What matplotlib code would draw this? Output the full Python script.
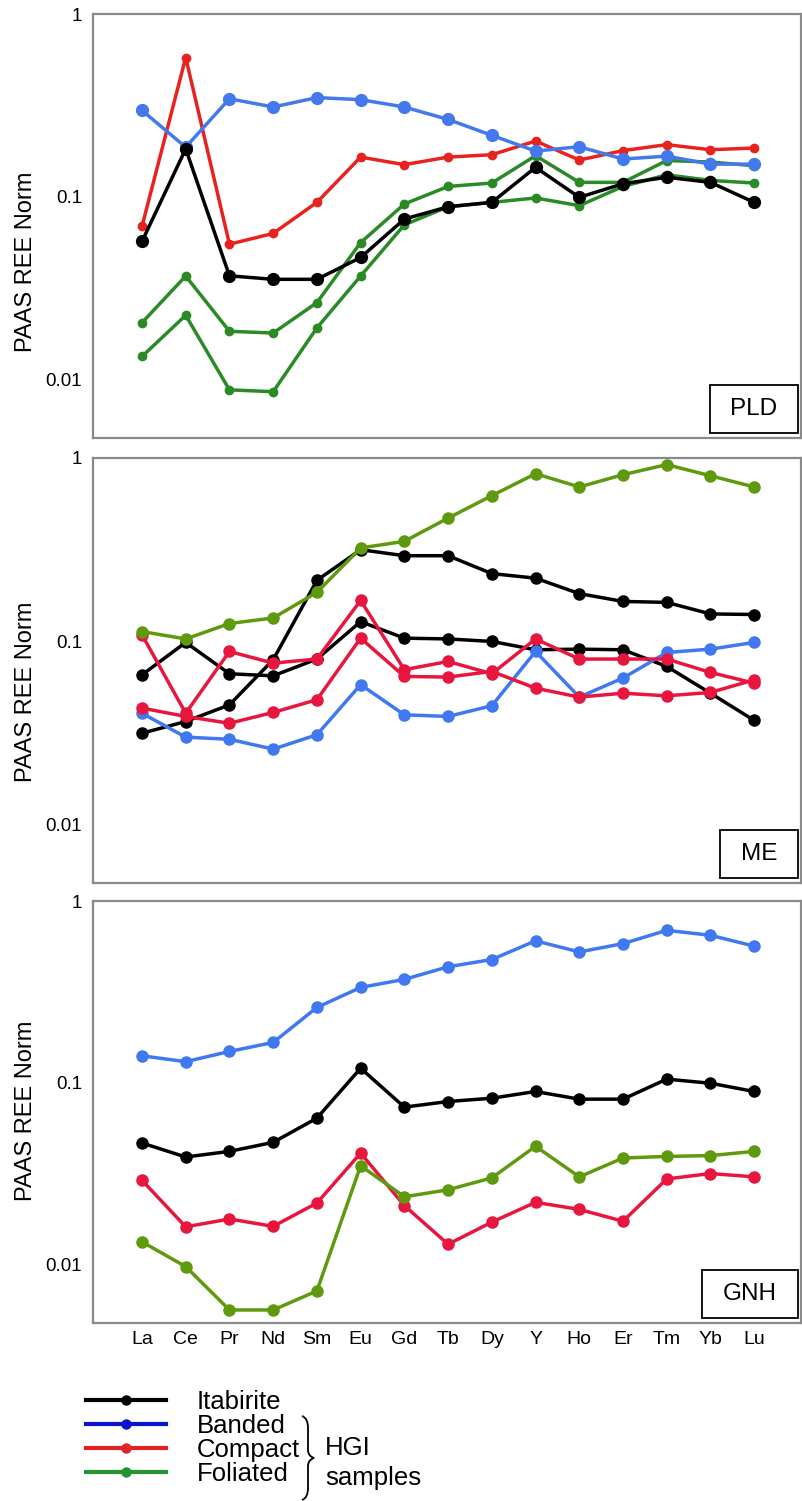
import matplotlib
matplotlib.use("Agg")
import matplotlib.pyplot as plt
from matplotlib.lines import Line2D
from matplotlib.patches import Rectangle, PathPatch
from matplotlib.path import Path

plt.rcParams['font.family'] = ['Liberation Sans', 'DejaVu Sans']

elements = ['La', 'Ce', 'Pr', 'Nd', 'Sm', 'Eu', 'Gd', 'Tb', 'Dy', 'Y', 'Ho', 'Er', 'Tm', 'Yb', 'Lu']

# PLD
itab_pld = [0.057, 0.183, 0.037, 0.0354, 0.0354, 0.0466, 0.0756, 0.0883, 0.0933, 0.145, 0.0994, 0.118, 0.128, 0.120, 0.0933]
band_pld = [0.297, 0.187, 0.344, 0.310, 0.349, 0.340, 0.310, 0.265, 0.217, 0.178, 0.188, 0.161, 0.167, 0.151, 0.151]
comp_pld = [0.0689, 0.578, 0.0551, 0.0631, 0.0933, 0.165, 0.150, 0.165, 0.170, 0.202, 0.159, 0.179, 0.193, 0.181, 0.185]
fol_pld_a = [0.0205, 0.0369, 0.0184, 0.0180, 0.0264, 0.0562, 0.0914, 0.114, 0.119, 0.168, 0.120, 0.120, 0.158, 0.155, 0.148]
fol_pld_b = [0.0134, 0.0225, 0.0088, 0.0086, 0.0192, 0.0369, 0.0703, 0.0883, 0.0933, 0.0986, 0.0895, 0.114, 0.132, 0.123, 0.119]

# ME
itab_me_a = [0.0656, 0.0986, 0.0665, 0.0648, 0.080, 0.128, 0.104, 0.103, 0.0998, 0.0899, 0.0906, 0.0899, 0.0729, 0.0521, 0.037]
itab_me_b = [0.0315, 0.0365, 0.045, 0.0793, 0.215, 0.316, 0.293, 0.293, 0.234, 0.221, 0.182, 0.165, 0.163, 0.141, 0.140]
band_me = [0.0405, 0.030, 0.0292, 0.0258, 0.0309, 0.058, 0.0397, 0.0389, 0.0445, 0.088, 0.0496, 0.063, 0.0869, 0.0906, 0.0986]
comp_me_a = [0.1086, 0.0405, 0.088, 0.076, 0.080, 0.167, 0.070, 0.0776, 0.0665, 0.103, 0.080, 0.080, 0.080, 0.0676, 0.0591]
comp_me_b = [0.0432, 0.0389, 0.0357, 0.0409, 0.048, 0.104, 0.0643, 0.0638, 0.0685, 0.0555, 0.0496, 0.0521, 0.0504, 0.0526, 0.0616]
fol_me = [0.113, 0.103, 0.125, 0.134, 0.185, 0.323, 0.351, 0.470, 0.623, 0.821, 0.695, 0.811, 0.92, 0.80, 0.695]

# GNH
itab_gnh = [0.0468, 0.0392, 0.0421, 0.0472, 0.0641, 0.1205, 0.0737, 0.0791, 0.0825, 0.0898, 0.0815, 0.0815, 0.105, 0.0997, 0.0898]
band_gnh = [0.141, 0.131, 0.149, 0.167, 0.260, 0.335, 0.371, 0.435, 0.477, 0.604, 0.525, 0.583, 0.690, 0.648, 0.565]
comp_gnh = [0.0292, 0.0162, 0.0179, 0.0163, 0.0219, 0.0412, 0.0212, 0.0130, 0.0172, 0.0221, 0.0202, 0.0174, 0.0297, 0.0318, 0.0305]
fol_gnh = [0.0134, 0.0098, 0.00566, 0.00566, 0.0072, 0.0351, 0.0237, 0.0259, 0.0301, 0.0449, 0.0305, 0.0387, 0.0395, 0.0399, 0.0421]

legend_labels = ['Itabirite', 'Banded', 'Compact', 'Foliated']
legend_colors = ['#000000', '#0a14c8', '#e02424', '#22962e']

W, H = 802, 1501
fig = plt.figure(figsize=(W / 100, H / 100), dpi=100)


def px_axes(left, top, right, bottom):
    return fig.add_axes([left / W, 1 - bottom / H, (right - left) / W, (bottom - top) / H])


x = list(range(len(elements)))

panels = [
    ('PLD', px_axes(93, 14, 801, 438), 0.415, 88,
     [(fol_pld_a, '#2a8a26', 6), (fol_pld_b, '#2a8a26', 6), (comp_pld, '#e8231f', 6),
      (band_pld, '#4479ee', 8.5), (itab_pld, '#000000', 8.5)]),
    ('ME', px_axes(93, 458, 801, 883), 0.449, 78,
     [(itab_me_a, '#000000', 8), (itab_me_b, '#000000', 8), (band_me, '#3f78f0', 8),
      (comp_me_a, '#e8163f', 8), (comp_me_b, '#e8163f', 8), (fol_me, '#5f9a0e', 8)]),
    ('GNH', px_axes(93, 901, 801, 1323), 0.502, 96,
     [(itab_gnh, '#000000', 8), (band_gnh, '#3f78f0', 8), (comp_gnh, '#e8163f', 8),
      (fol_gnh, '#5f9a0e', 8)]),
]

for name, ax, ylab_y, box_w, series in panels:
    for vals, col, ms in series:
        ax.plot(x, vals, color=col, lw=2.5, marker='o', ms=ms, mec=col, mfc=col)
    ax.set_yscale('log')
    ax.set_ylim(0.0048, 1.0)
    ax.set_xlim(-1.12, 15.07)
    ax.set_yticks([0.01, 0.1, 1])
    ax.set_yticklabels(['0.01', '0.1', '1'])
    ax.minorticks_off()
    ax.tick_params(axis='y', length=0, pad=8, labelsize=13.5)
    ax.tick_params(axis='x', length=0, pad=6, labelsize=14)
    ax.set_xticks(x)
    ax.set_xticklabels(elements if name == 'GNH' else [])
    for sp in ax.spines.values():
        sp.set_color('#8a8a8a')
        sp.set_linewidth(1.6)
    ax.set_ylabel('PAAS REE Norm', fontsize=17)
    ax.yaxis.set_label_coords(-0.079, ylab_y)
    # sample label box in the lower right corner
    bw = box_w / 708
    bh = 48 / 424
    ax.add_patch(Rectangle((0.9955 - bw, 0.012), bw, bh, transform=ax.transAxes,
                           fill=False, ec='black', lw=1.3, zorder=5))
    ax.text(0.9955 - bw / 2, 0.012 + bh / 2, name, transform=ax.transAxes,
            ha='center', va='center', fontsize=17.5, zorder=6)

handles = [Line2D([], [], color=c, lw=3, marker='o', ms=6.5) for c in legend_colors]
fig.legend(handles, legend_labels, loc='upper left', bbox_to_anchor=(86 / W, 1 - 1390 / H),
           frameon=False, fontsize=18.5, labelspacing=0.0, handlelength=3.1,
           handletextpad=1.22, borderpad=0, borderaxespad=0)


# brace grouping the HGI samples
def fp(px, py):
    return (px / W, 1 - py / H)


verts = [fp(302, 1416), fp(308, 1418), fp(308, 1428),
         fp(308, 1450), fp(308, 1456), fp(314, 1458),
         fp(308, 1460), fp(308, 1466), fp(308, 1488),
         fp(308, 1498), fp(302, 1500)]
codes = [Path.MOVETO, Path.CURVE3, Path.CURVE3,
         Path.LINETO, Path.CURVE3, Path.CURVE3,
         Path.CURVE3, Path.CURVE3, Path.LINETO,
         Path.CURVE3, Path.CURVE3]
fig.add_artist(PathPatch(Path(verts, codes), transform=fig.transFigure,
                         fill=False, ec='black', lw=1.3))
fig.text(325 / W, 1 - 1448 / H, 'HGI', fontsize=18.5, va='center', ha='left')
fig.text(325 / W, 1 - 1478 / H, 'samples', fontsize=18.5, va='center', ha='left')

fig.savefig('out.png', dpi=100)
